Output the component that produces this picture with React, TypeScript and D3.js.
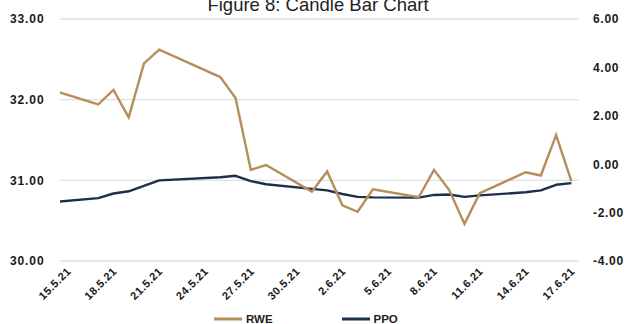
import React from "react";
import * as d3 from "d3";

const dates = ["14.5.21","17.5.21","18.5.21","19.5.21","20.5.21","21.5.21","25.5.21","26.5.21","27.5.21","28.5.21","31.5.21","1.6.21","2.6.21","3.6.21","4.6.21","7.6.21","8.6.21","9.6.21","10.6.21","11.6.21","14.6.21","15.6.21","16.6.21","17.6.21"];
const rwe = [32.12, 31.94, 32.12, 31.78, 32.45, 32.62, 32.28, 32.02, 31.13, 31.19, 30.86, 31.11, 30.69, 30.61, 30.89, 30.79, 31.13, 30.88, 30.46, 30.84, 31.10, 31.06, 31.56, 30.99];
const ppo = [-1.57, -1.40, -1.21, -1.12, -0.90, -0.67, -0.54, -0.48, -0.70, -0.83, -1.02, -1.08, -1.23, -1.35, -1.37, -1.38, -1.27, -1.25, -1.35, -1.29, -1.16, -1.08, -0.85, -0.78];
const xTickLabels = ["15.5.21","18.5.21","21.5.21","24.5.21","27.5.21","30.5.21","2.6.21","5.6.21","8.6.21","11.6.21","14.6.21","17.6.21"];
const leftTicks = [30, 31, 32, 33];
const rightTicks = [-4, -2, 0, 2, 4, 6];
const seriesNames = ["RWE", "PPO"];
const title = "Figure 8: Candle Bar Chart";

const GOLD = "#B58E5C";
const NAVY = "#1E2F4C";

export default function App() {
  const parse = d3.timeParse("%d.%m.%y");
  const pts = dates.map((d) => parse(d) as Date);
  const ticks = xTickLabels.map((d) => parse(d) as Date);
  const half = 12 * 3600 * 1000;
  const x = d3
    .scaleTime()
    .domain([new Date(ticks[0].getTime() - half), new Date(ticks[ticks.length - 1].getTime() + half)])
    .range([60, 579]);
  const yL = d3.scaleLinear().domain([30, 33]).range([261, 19]);
  const yR = d3.scaleLinear().domain([-4, 6]).range([261, 19]);

  const lineL = d3.line<number>().x((_, i) => x(pts[i])).y((v) => yL(v));
  const lineR = d3.line<number>().x((_, i) => x(pts[i])).y((v) => yR(v));

  const font = "'Liberation Sans', Arial, sans-serif";

  return (
    <svg width={624} height={324} style={{ position: "absolute", left: 0, top: 0, background: "#fff" }} fontFamily={font}>
      <defs>
        <clipPath id="plot">
          <rect x={60} y={0} width={519} height={324} />
        </clipPath>
      </defs>
      <text x={318} y={11} textAnchor="middle" fontSize={18.5} fill="#222">{title}</text>
      {leftTicks.map((t) => (
        <line key={"g" + t} x1={60} x2={579} y1={yL(t)} y2={yL(t)} stroke="#E0E0E0" strokeWidth={1.4} />
      ))}
      {leftTicks.map((t) => (
        <text key={"l" + t} x={44.5} y={yL(t)} dy="0.36em" textAnchor="end" fontSize={12} fontWeight="bold" letterSpacing={0.9} fill="#1a1a1a">
          {t.toFixed(2)}
        </text>
      ))}
      {rightTicks.map((t) => (
        <text key={"r" + t} x={593} y={yR(t)} dy="0.36em" textAnchor="start" fontSize={12} fontWeight="bold" letterSpacing={0.7} fill="#1a1a1a">
          {t.toFixed(2)}
        </text>
      ))}
      {ticks.map((t, i) => (
        <text
          key={"x" + i}
          transform={`translate(${x(t) + 4},${272}) rotate(-45)`}
          textAnchor="end"
          fontSize={11}
          fontWeight="bold"
          letterSpacing={0.5}
          fill="#1a1a1a"
        >
          {xTickLabels[i]}
        </text>
      ))}
      <g clipPath="url(#plot)">
        <path d={lineR(ppo) || ""} fill="none" stroke={NAVY} strokeWidth={2.4} strokeLinejoin="round" />
        <path d={lineL(rwe) || ""} fill="none" stroke={GOLD} strokeWidth={2.4} strokeLinejoin="miter" />
      </g>
      <g>
        <line x1={214} x2={242} y1={319} y2={319} stroke={GOLD} strokeWidth={3} />
        <text x={246} y={319} dy="0.35em" fontSize={11.5} fontWeight="bold" fill="#222">{seriesNames[0]}</text>
        <line x1={342} x2={370} y1={319} y2={319} stroke={NAVY} strokeWidth={3} />
        <text x={373.5} y={319} dy="0.35em" fontSize={11.5} fontWeight="bold" fill="#222">{seriesNames[1]}</text>
      </g>
    </svg>
  );
}
